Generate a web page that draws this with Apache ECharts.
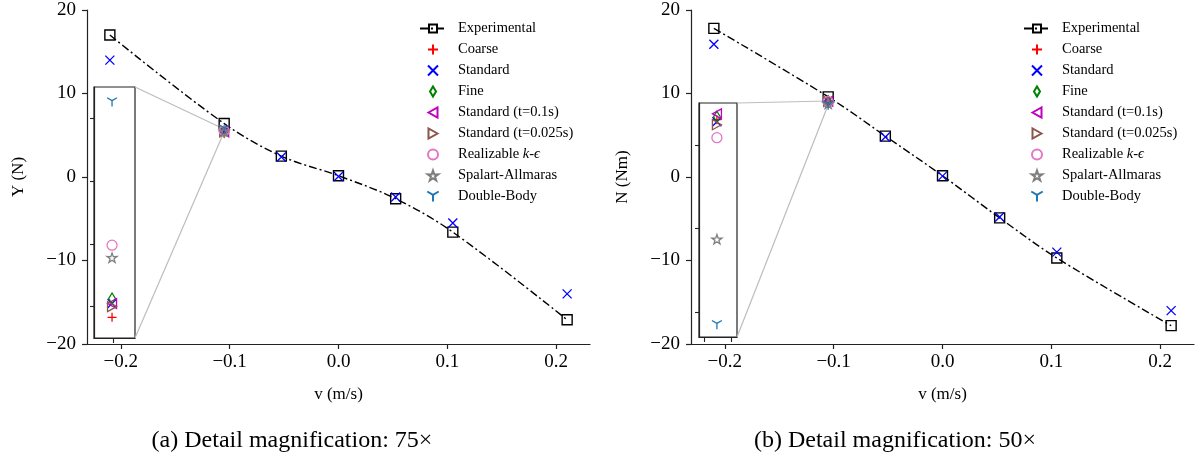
<!DOCTYPE html>
<html>
<head>
<meta charset="utf-8">
<script src="https://cdn.jsdelivr.net/npm/echarts@6/dist/echarts.min.js"></script>
<style>
  html, body { margin: 0; padding: 0; background: #fff; }
  #chart { width: 1200px; height: 464px; }
</style>
</head>
<body>
<div id="chart"></div>
<script>
// speeds (m/s) where the experiment and the Standard run were evaluated
var speeds = [-0.21, -0.105, -0.0525, 0, 0.0525, 0.105, 0.21];
var clusterSpeed = -0.105;

// (a) sway force Y (N)
var expY = [17.0, 6.4, 2.5, 0.15, -2.6, -6.6, -17.1];
var stdY = [14.0, 5.405, 2.4, 0.05, -2.4, -5.5, -14.0];
var clusterY = {
  'Coarse': 5.383,
  'Fine': 5.413,
  'Standard (t=0.1s)': 5.405,
  'Standard (t=0.025s)': 5.400,
  'Realizable k-ϵ': 5.498,
  'Spalart-Allmaras': 5.478,
  'Double-Body': 5.726
};

// (b) yaw moment N (Nm)
var expN = [17.8, 9.6, 4.9, 0.15, -4.9, -9.7, -17.8];
var stdN = [15.9, 9.055, 4.8, 0.1, -4.8, -9.0, -16.0];
var clusterN = {
  'Coarse': 9.060,
  'Fine': 9.067,
  'Standard (t=0.1s)': 9.074,
  'Standard (t=0.025s)': 9.048,
  'Realizable k-ϵ': 9.017,
  'Spalart-Allmaras': 8.774,
  'Double-Body': 8.569
};

var xTicks = [-0.2, -0.1, 0, 0.1, 0.2];

// detail windows
var insetA = { x: [-0.10522, -0.10472], y: [5.35, 5.75], xt: [-0.10498], yt: [5.4, 5.5, 5.6, 5.7] };
var insetB = { x: [-0.10533, -0.10463], y: [8.54, 9.10], xt: [-0.105238, -0.104743], yt: [8.6, 8.8, 9.0] };

var captions = ['(a) Detail magnification: 75×', '(b) Detail magnification: 50×'];

var FONT = '"Liberation Serif", "DejaVu Serif", serif';

var styles = {
  'Coarse': { color: '#ff0000', symbol: 'path://M5,0L5,10M0,5L10,5', size: 9 },
  'Standard': { color: '#0000ff', symbol: 'path://M0,0L10,10M0,10L10,0', size: 9 },
  'Fine': { color: '#008000', symbol: 'path://M3,0L6,5L3,10L0,5Z', size: 11 },
  'Standard (t=0.1s)': { color: '#bf00bf', symbol: 'path://M0,5L9,0L9,10Z', size: 10 },
  'Standard (t=0.025s)': { color: '#8c564b', symbol: 'path://M9,5L0,0L0,10Z', size: 10 },
  'Realizable k-ϵ': { color: '#e377c2', symbol: 'circle', size: 10 },
  'Spalart-Allmaras': { color: '#7f7f7f', symbol: 'path://M50,0L61.8,35.3L98.1,34.5L69,56.3L79.4,90.5L50,70L20.6,90.5L31,56.3L1.9,34.5L38.2,35.3Z', size: 10 },
  'Double-Body': { color: '#1f77b4', symbol: 'path://M5,5L5,10M5,5L0.7,2.5M5,5L9.3,2.5', size: 10 }
};
var legendNames = ['Experimental', 'Coarse', 'Standard', 'Fine', 'Standard (t=0.1s)',
  'Standard (t=0.025s)', 'Realizable k-ϵ', 'Spalart-Allmaras', 'Double-Body'];

function fmtNum(v) { return String(v).replace('-', '\u2212'); }

function scatter(name, data, axisIdx) {
  var s = styles[name];
  return {
    type: 'scatter', name: name, xAxisIndex: axisIdx, yAxisIndex: axisIdx,
    data: data, symbol: s.symbol, symbolSize: s.size, symbolKeepAspect: true,
    clip: true, z: 3,
    itemStyle: { color: 'none', borderColor: s.color, borderWidth: 1.3, opacity: 1 }
  };
}

function buildSeries(exp, std, cluster, mainIdx, insetIdx) {
  var out = [];
  out.push({
    type: 'line', name: 'Experimental', xAxisIndex: mainIdx, yAxisIndex: mainIdx,
    data: speeds.map(function (v, i) { return [v, exp[i]]; }),
    smooth: 0.35, symbol: 'rect', symbolSize: 10, z: 2,
    lineStyle: { color: '#000', width: 1.4, type: [8, 3, 2, 3] },
    itemStyle: { color: 'rgba(255,255,255,0)', borderColor: '#000', borderWidth: 1.4 }
  });
  var stdData = speeds.map(function (v, i) { return [v, std[i]]; });
  [mainIdx, insetIdx].forEach(function (ax) {
    legendNames.slice(1).forEach(function (name) {
      if (name === 'Standard') out.push(scatter(name, stdData, ax));
      else out.push(scatter(name, [[clusterSpeed, cluster[name]]], ax));
    });
  });
  return out;
}

function mainX(idx) {
  return {
    type: 'value', gridIndex: idx, min: -0.231, max: 0.231,
    name: 'v (m/s)', nameLocation: 'middle', nameGap: 42,
    nameTextStyle: { fontFamily: FONT, fontSize: 17, color: '#000' },
    axisLine: { onZero: false, lineStyle: { color: '#222', width: 1.2 } },
    axisTick: { length: 5, customValues: xTicks, lineStyle: { color: '#222', width: 1.2 } },
    axisLabel: { customValues: xTicks, margin: 9, fontFamily: FONT, fontSize: 19, color: '#000',
      formatter: function (v) { return fmtNum(v === 0 ? '0.0' : v.toFixed(1)); } },
    splitLine: { show: false }
  };
}
function mainY(idx, label) {
  return {
    type: 'value', gridIndex: idx, min: -20, max: 20, interval: 10,
    name: label, nameLocation: 'middle', nameGap: 60, nameRotate: 90,
    nameTextStyle: { fontFamily: FONT, fontSize: 17, color: '#000' },
    axisLine: { onZero: false, lineStyle: { color: '#222', width: 1.2 } },
    axisTick: { length: 5, lineStyle: { color: '#222', width: 1.2 } },
    axisLabel: { margin: 11, fontFamily: FONT, fontSize: 19, color: '#000', formatter: fmtNum },
    splitLine: { show: false }
  };
}
function insetX(idx, ins) {
  return {
    type: 'value', gridIndex: idx, min: ins.x[0], max: ins.x[1],
    axisLine: { show: true, onZero: false, lineStyle: { color: '#222', width: 1.2 } },
    axisTick: { show: true, length: 5, customValues: ins.xt, lineStyle: { color: '#222', width: 1.1 } },
    axisLabel: { show: false }, splitLine: { show: false }
  };
}
function insetY(idx, ins) {
  return {
    type: 'value', gridIndex: idx, min: ins.y[0], max: ins.y[1],
    axisLine: { show: true, onZero: false, lineStyle: { color: '#222', width: 1.2 } },
    axisTick: { show: true, length: 4, customValues: ins.yt, lineStyle: { color: '#222', width: 1.1 } },
    axisLabel: { show: false }, splitLine: { show: false }
  };
}

function legend(left) {
  return {
    orient: 'vertical', left: left, top: 16, itemWidth: 26, itemHeight: 10, itemGap: 6,
    data: legendNames, selectedMode: false, symbolKeepAspect: true,
    formatter: function (name) {
      return name === 'Realizable k-ϵ' ? 'Realizable {i|k}-{i|ϵ}' : name;
    },
    textStyle: { fontFamily: FONT, fontSize: 14.5, color: '#000', lineHeight: 15, padding: [0, 0, 0, 7],
      rich: { i: { fontFamily: FONT, fontSize: 14.5, fontStyle: 'italic', color: '#000' } } }
  };
}

var chart = echarts.init(document.getElementById('chart'), null, { renderer: 'canvas' });
var option = {
  animation: false,
  backgroundColor: '#fff',
  grid: [
    { left: 87, top: 10, width: 503, height: 334 },
    { left: 691, top: 10, width: 503, height: 334 },
    { left: 94, top: 87, width: 41, height: 251, show: true, backgroundColor: '#fff', borderColor: '#222', borderWidth: 1.2 },
    { left: 699, top: 103, width: 38, height: 234, show: true, backgroundColor: '#fff', borderColor: '#222', borderWidth: 1.2 }
  ],
  xAxis: [mainX(0), mainX(1), insetX(2, insetA), insetX(3, insetB)],
  yAxis: [mainY(0, 'Y (N)'), mainY(1, 'N (Nm)'), insetY(2, insetA), insetY(3, insetB)],
  legend: [legend(414), legend(1018)],
  series: buildSeries(expY, stdY, clusterY, 0, 2).concat(buildSeries(expN, stdN, clusterN, 1, 3))
};
chart.setOption(option);

// connector lines between each detail window and the region it magnifies
function px(gi, x, y) { return chart.convertToPixel({ gridIndex: gi }, [x, y]); }
var graphics = [];
[[insetA, 0, 2], [insetB, 1, 3]].forEach(function (t) {
  var ins = t[0], m = t[1], g = t[2];
  [ins.y[1], ins.y[0]].forEach(function (yv) {
    var a = px(g, ins.x[1], yv), b = px(m, ins.x[0], yv);
    graphics.push({ type: 'line', z: 1, shape: { x1: a[0], y1: a[1], x2: b[0], y2: b[1] },
      style: { stroke: '#bdbdbd', lineWidth: 1.2 } });
  });
});
captions.forEach(function (c, i) {
  graphics.push({ type: 'text', x: i === 0 ? 292 : 895, y: 441,
    style: { text: c, font: '24px ' + FONT, fill: '#000', textAlign: 'center', textVerticalAlign: 'middle' } });
});
chart.setOption({ graphic: graphics });
</script>
</body>
</html>
